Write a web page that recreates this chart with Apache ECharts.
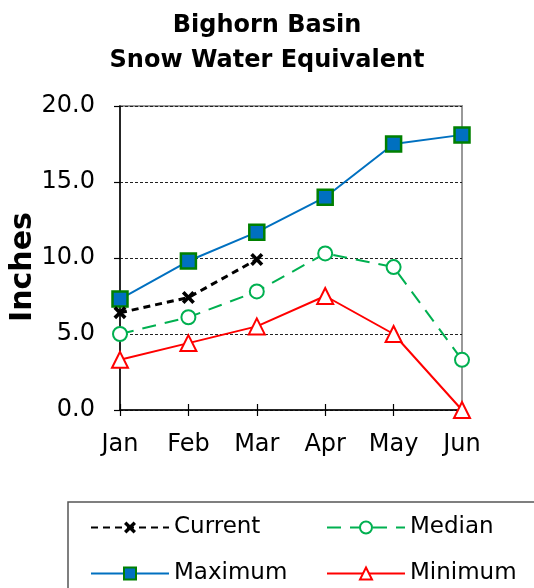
<!DOCTYPE html>
<html>
<head>
<meta charset="utf-8">
<script src="https://cdn.jsdelivr.net/npm/echarts@6/dist/echarts.min.js"></script>
<style>
  html, body { margin: 0; padding: 0; background: #fff; }
  #chart { width: 534px; height: 588px; }
</style>
</head>
<body>
<div id="chart"></div>
<script>
// data
const months = ['Jan', 'Feb', 'Mar', 'Apr', 'May', 'Jun']
const current = [6.4, 7.4, 9.9]
const median = [5.0, 6.1, 7.8, 10.3, 9.4, 3.3]
const maximum = [7.3, 9.8, 11.7, 14.0, 17.5, 18.1]
const minimum = [3.3, 4.4, 5.5, 7.5, 5.0, 0.0]
const yTicks = [0, 5, 10, 15, 20]

const font = 'DejaVu Sans'
const xMark = 'path://M2,0 L5,3 L8,0 L10,2 L7,5 L10,8 L8,10 L5,7 L2,10 L0,8 L3,5 L0,2 Z'

function legendAt (name, left, top) {
  return {
    data: [name],
    left: left,
    top: top,
    padding: 0,
    itemWidth: 78,
    itemHeight: 15,
    selectedMode: false,
    textStyle: { fontFamily: font, fontSize: 23, color: '#000' }
  }
}

const chart = echarts.init(document.getElementById('chart'))
chart.setOption({
  animation: false,
  backgroundColor: '#fff',
  title: {
    text: 'Bighorn Basin\nSnow Water Equivalent',
    left: 'center',
    top: 3,
    textStyle: { fontFamily: font, fontSize: 24, fontWeight: 'bold', lineHeight: 35, color: '#000' }
  },
  graphic: [{
    type: 'rect',
    shape: { x: 68, y: 502, width: 480, height: 100 },
    style: { fill: 'none', stroke: '#555', lineWidth: 1.5 },
    silent: true
  }],
  legend: [
    legendAt('Current', 90, 516),
    legendAt('Median', 326, 516),
    legendAt('Maximum', 90, 562),
    legendAt('Minimum', 326, 562)
  ],
  grid: {
    left: 120, right: 72, top: 106, bottom: 178,
    outerBoundsMode: 'none',
    containLabel: false,
    show: true, borderColor: '#999', borderWidth: 2
  },
  xAxis: [{
    type: 'category',
    data: months,
    boundaryGap: false,
    position: 'bottom',
    axisLine: { lineStyle: { color: '#000', width: 1.5 } },
    axisTick: { length: 6, lineStyle: { color: '#000', width: 1.2 } },
    axisLabel: { fontFamily: font, fontSize: 24, color: '#000', margin: 23 }
  }, {
    type: 'category',
    data: months,
    boundaryGap: false,
    position: 'bottom',
    axisLine: { show: false },
    axisTick: { inside: true, length: 6, lineStyle: { color: '#000', width: 1.2 } },
    axisLabel: { show: false }
  }],
  yAxis: {
    type: 'value',
    min: yTicks[0],
    max: yTicks[yTicks.length - 1],
    interval: yTicks[1] - yTicks[0],
    name: 'Inches',
    nameLocation: 'middle',
    nameGap: 82,
    nameMoveOverlap: false,
    nameTextStyle: { fontFamily: font, fontSize: 30, fontWeight: 'bold', color: '#000', padding: [0, 18, 0, 0] },
    axisLine: { show: true, lineStyle: { color: '#000', width: 1.5 } },
    axisTick: { show: true, length: 6, lineStyle: { color: '#000', width: 1.2 } },
    axisLabel: {
      fontFamily: font, fontSize: 24, color: '#000', margin: 25,
      formatter: v => v.toFixed(1)
    },
    splitLine: { lineStyle: { color: '#222', width: 1, type: [3, 2] } }
  },
  series: [{
    name: 'Maximum',
    type: 'line',
    data: maximum,
    clip: false,
    symbol: 'rect',
    symbolSize: 15,
    lineStyle: { color: '#0070C0', width: 2 },
    itemStyle: { color: '#0070C0', borderColor: '#008000', borderWidth: 2.5 }
  }, {
    name: 'Median',
    type: 'line',
    data: median,
    clip: false,
    symbol: 'circle',
    symbolSize: 14,
    lineStyle: { color: '#00B050', width: 2, type: [14, 9] },
    itemStyle: { color: '#fff', borderColor: '#00B050', borderWidth: 2 }
  }, {
    name: 'Minimum',
    type: 'line',
    data: minimum,
    clip: false,
    symbol: 'triangle',
    symbolSize: 16,
    lineStyle: { color: '#FF0000', width: 2 },
    itemStyle: { color: '#fff', borderColor: '#FF0000', borderWidth: 2 }
  }, {
    name: 'Current',
    type: 'line',
    data: current,
    clip: false,
    symbol: xMark,
    symbolSize: 13,
    lineStyle: { color: '#000', width: 3, type: [7, 5] },
    itemStyle: { color: '#000' }
  }]
})
</script>
</body>
</html>
